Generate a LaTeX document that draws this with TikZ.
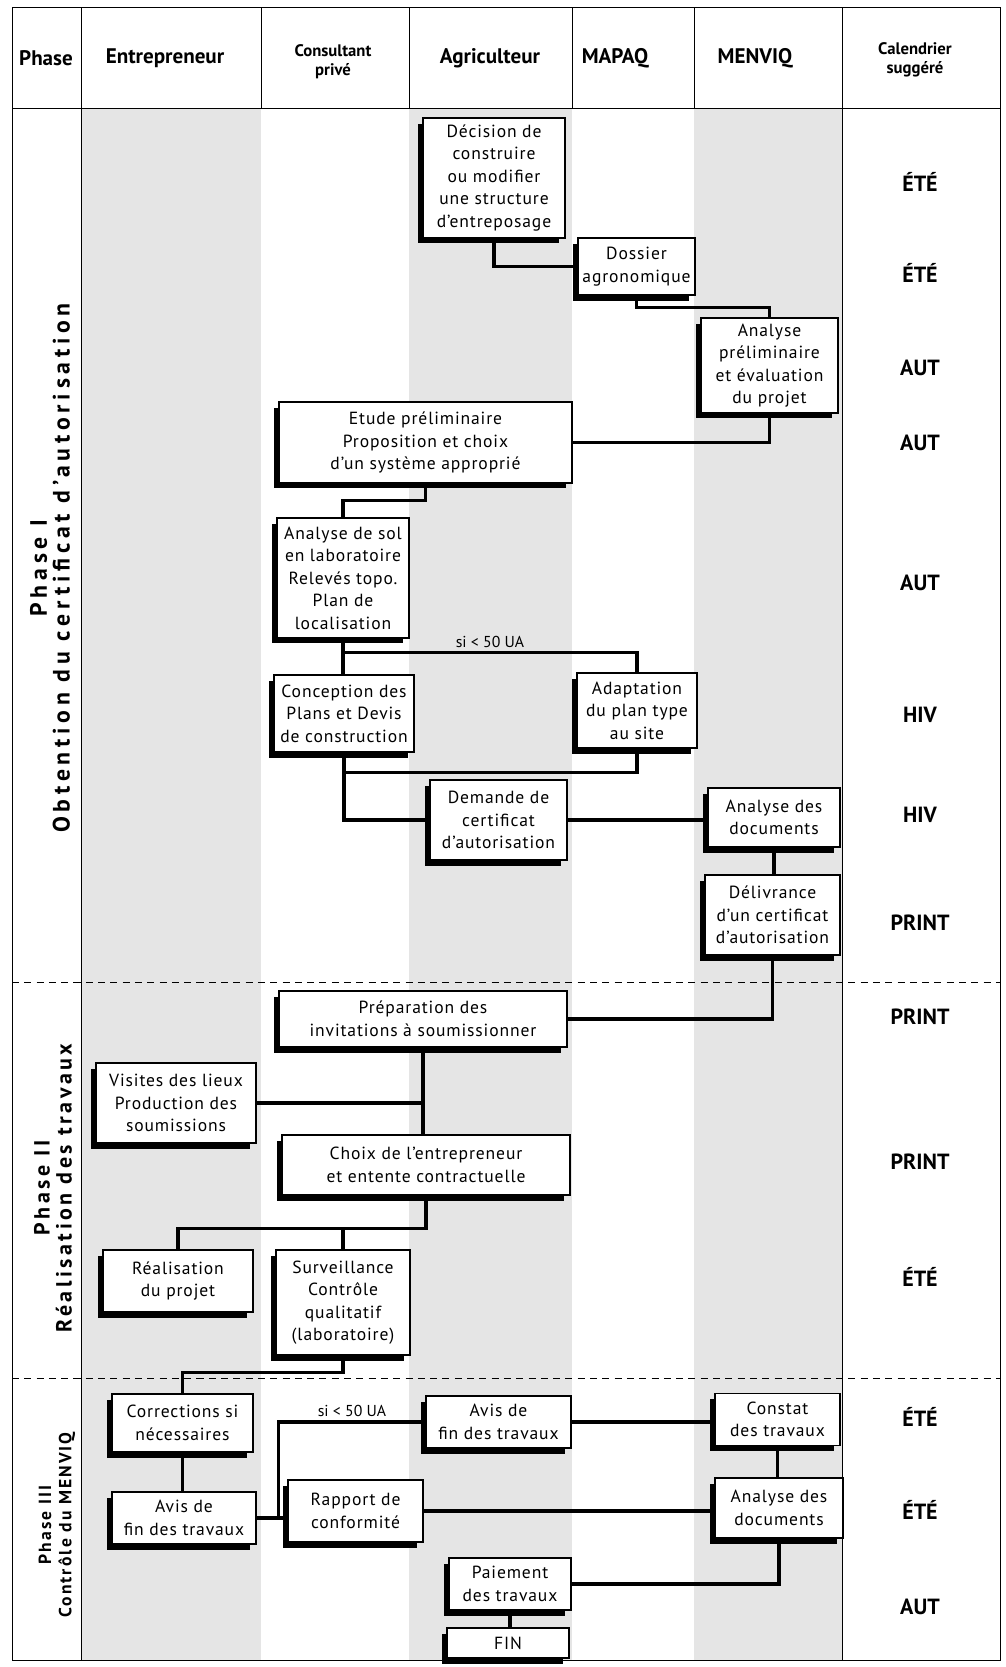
\documentclass[tikz,border=0pt]{standalone}
\usepackage{fontspec}
\setmainfont{PT Sans}
\usetikzlibrary{shadows}
\begin{document}
\begin{tikzpicture}[x=0.02cm,y=-0.02cm,
    box/.style={draw,line width=1pt,fill=white,align=center,inner sep=1pt,
      font=\fontsize{10}{12.8}\selectfont\addfontfeatures{LetterSpace=5},
      drop shadow={shadow xshift=-0.11cm,shadow yshift=-0.11cm,opacity=1,fill=black}},
    link/.style={line width=1.8pt},
    cond/.style={font=\fontsize{9}{11}\selectfont,inner sep=2pt},
    season/.style={font=\fontsize{12.5}{14}\selectfont\bfseries},
    head/.style={font=\fontsize{12}{14}\selectfont\bfseries,align=center},
    headtwo/.style={font=\fontsize{9.5}{11}\selectfont\bfseries,align=center},
    phase/.style={rotate=90,align=center,
      font=\fontsize{13.5}{13}\selectfont\bfseries\addfontfeatures{LetterSpace=20}}]
  \useasboundingbox (0,0) rectangle (1005,1667);
  \fill[black!10] (81,108) rectangle (261,1660);
  \fill[black!10] (409,108) rectangle (572,1660);
  \fill[black!10] (694,108) rectangle (842,1660);
  \draw[thin] (12,7) rectangle (1000,1660);
  \draw[thin] (12,108) -- (1000,108);
  \foreach \x in {81,261,409,572,694,842}
    \draw[thin] (\x,7) -- (\x,108);
  \draw[thin] (81,108) -- (81,1660);
  \draw[thin] (842,108) -- (842,1660);
  \draw[thin,dash pattern=on 4pt off 3pt] (12,982) -- (1000,982);
  \draw[thin,dash pattern=on 4pt off 3pt] (12,1378) -- (1000,1378);

  \node[head] (hphase) at (46,58) {Phase};
  \node[head] (hent) at (165,58) {Entrepreneur};
  \node[headtwo] (hcons) at (333,62) {Consultant\\privé};
  \node[head] (hagr) at (490,58) {Agriculteur};
  \node[head] (hmap) at (615,58) {MAPAQ};
  \node[head] (hmen) at (755,58) {MENVIQ};
  \node[headtwo] (hcal) at (915,60) {Calendrier\\suggéré};

  \node[phase] (ph1) at (50,568) {Phase I\\Obtention du certificat d'autorisation};
  \node[phase,font=\fontsize{12.5}{12.5}\selectfont\bfseries\addfontfeatures{LetterSpace=16}] (ph2) at (53,1188) {Phase II\\Réalisation des travaux};
  \node[phase,font=\fontsize{10}{11.5}\selectfont\bfseries\addfontfeatures{LetterSpace=12}] (ph3) at (57,1525) {Phase III\\Contrôle du MENVIQ};

  \foreach \y/\s in {182/ÉTÉ,273/ÉTÉ,368/AUT,443/AUT,583/AUT,715/HIV,815/HIV,
      923/PRINT,1017/PRINT,1162/PRINT,1277/ÉTÉ,1417/ÉTÉ,1510/ÉTÉ,1607/AUT}
    \node[season] (cal\y) at (920,\y) {\s};

  \node[box,minimum width=2.84cm,minimum height=2.40cm] (decision) at (494,178) {Décision de\\construire\\ou modifier\\une structure\\d'entreposage};
  \node[box,minimum width=2.34cm,minimum height=1.14cm] (dossier) at (636.5,266.5) {Dossier\\agronomique};
  \node[box,minimum width=2.74cm,minimum height=1.90cm] (analprel) at (769.5,365.5) {Analyse\\préliminaire\\et évaluation\\du projet};
  \node[box,minimum width=5.86cm,minimum height=1.62cm] (etude) at (425.5,442.5) {Etude préliminaire\\Proposition et choix\\d'un système approprié};
  \node[box,minimum width=2.64cm,minimum height=2.40cm] (sol) at (343,578) {Analyse de sol\\en laboratoire\\Relevés topo.\\Plan de\\localisation};
  \node[box,minimum width=2.80cm,minimum height=1.54cm] (conception) at (344,713.5) {Conception des\\Plans et Devis\\de construction};
  \node[box,minimum width=2.40cm,minimum height=1.50cm] (adaptation) at (637,710.5) {Adaptation\\du plan type\\au site};
  \node[box,minimum width=2.74cm,minimum height=1.60cm] (demande) at (498.5,820) {Demande de\\certificat\\d'autorisation};
  \node[box,minimum width=2.64cm,minimum height=1.18cm] (analdoc) at (774,817.5) {Analyse des\\documents};
  \node[box,minimum width=2.70cm,minimum height=1.60cm] (delivrance) at (772.5,915) {Délivrance\\d'un certificat\\d'autorisation};

  \node[box,minimum width=5.76cm,minimum height=1.12cm] (preparation) at (423,1019) {Préparation des\\invitations à soumissionner};
  \node[box,minimum width=3.20cm,minimum height=1.60cm] (visites) at (176,1103) {Visites des lieux\\Production des\\soumissions};
  \node[box,minimum width=5.76cm,minimum height=1.20cm] (choix) at (426,1165) {Choix de l'entrepreneur\\et entente contractuelle};
  \node[box,minimum width=3.00cm,minimum height=1.24cm] (realisation) at (178,1281) {Réalisation\\du projet};
  \node[box,minimum width=2.68cm,minimum height=2.10cm] (surveillance) at (343,1302.5) {Surveillance\\Contrôle\\qualitatif\\(laboratoire)};

  \node[box,minimum width=2.82cm,minimum height=1.16cm] (corrections) at (182.5,1423) {Corrections si\\nécessaires};
  \node[box,minimum width=2.88cm,minimum height=1.04cm] (avisent) at (184,1518) {Avis de\\fin des travaux};
  \node[box,minimum width=2.90cm,minimum height=1.04cm] (avisagr) at (498.5,1422) {Avis de\\fin des travaux};
  \node[box,minimum width=2.50cm,minimum height=1.04cm] (constat) at (777.5,1419.5) {Constat\\des travaux};
  \node[box,minimum width=2.70cm,minimum height=1.24cm] (rapport) at (355.5,1511) {Rapport de\\conformité};
  \node[box,minimum width=2.56cm,minimum height=1.20cm] (analdoc2) at (779,1508) {Analyse des\\documents};
  \node[box,minimum width=2.44cm,minimum height=1.04cm] (paiement) at (510,1584) {Paiement\\des travaux};
  \node[box,minimum width=2.44cm,minimum height=0.60cm] (fin) at (508,1643) {FIN};

  \draw[link] (decision.south) |- (dossier.west);
  \draw[link] (dossier.south) -- ++(0,12) -| (analprel.north);
  \draw[link] (analprel.south) |- (etude.east);
  \draw[link] (etude.south) -- ++(0,17) -| (sol.north);
  \draw[link] (sol.south) -- (sol.south |- conception.north);
  \draw[link] (sol.south) ++(0,14) -| node[cond,pos=0.25,above] (cond1) {si < 50 UA} (adaptation.north);
  \draw[link] (conception.south) |- (demande.west);
  \draw[link] (adaptation.south) -- ++(0,24) -| (conception.south);
  \draw[link] (demande.east) -- (demande.east -| analdoc.west);
  \draw[link] (analdoc.south) -- (analdoc.south |- delivrance.north);
  \draw[link] (delivrance.south) |- (preparation.east);
  \draw[link] (preparation.south) -- (preparation.south |- choix.north);
  \draw[link] (visites.east) -- (visites.east -| preparation.south);
  \draw[link] (choix.south) -- ++(0,33) coordinate (split) -| (realisation.north);
  \draw[link] (split -| surveillance.north) -- (surveillance.north);
  \draw[link] (surveillance.south) -- ++(0,17) -| (corrections.north);
  \draw[link] (corrections.south) -- (corrections.south |- avisent.north);
  \draw[link] (avisent.east) -- (avisent.east -| rapport.west);
  \draw[link] (avisent.east) ++(22,0) |- node[cond,pos=0.75,above] (cond2) {si < 50 UA} (avisagr.west);
  \draw[link] (avisagr.east) -- (avisagr.east -| constat.west);
  \draw[link] (constat.south) -- (constat.south |- analdoc2.north);
  \draw[link] (rapport.east) -- (rapport.east -| analdoc2.west);
  \draw[link] (analdoc2.south) |- (paiement.east);
  \draw[link] (paiement.south) -- (paiement.south |- fin.north);
\end{tikzpicture}
\end{document}
